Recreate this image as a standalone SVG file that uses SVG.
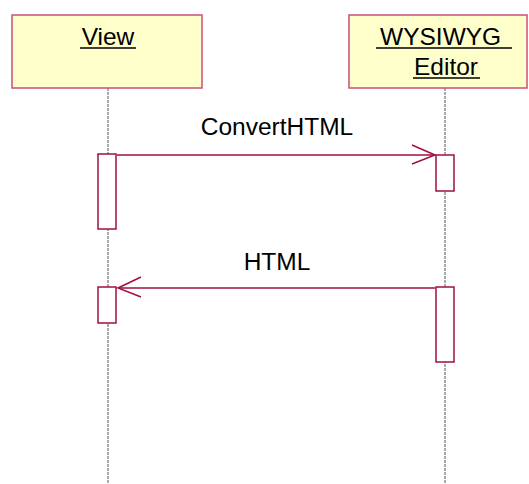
<svg xmlns="http://www.w3.org/2000/svg" width="529" height="484" viewBox="0 0 529 484">
<style>
.obj{fill:#FFFFCC;stroke:#C8507A;stroke-width:1.5}
.lbl{font-family:"Liberation Sans",Arial,sans-serif;font-size:24.5px;fill:#000;text-anchor:middle}
.ul{stroke:#000;stroke-width:1.5}
.life{stroke:#555;stroke-width:1;stroke-dasharray:3,1}
.act{fill:#fff;stroke:#A0103C;stroke-width:1.5}
.msg{stroke:#A0103C;stroke-width:1.5;fill:none}
</style>
<rect width="529" height="484" fill="#fff"/>
<g id="lifelines">
<line class="life" x1="108" y1="88" x2="108" y2="484"/>
<line class="life" x1="445" y1="88" x2="445" y2="484"/>
</g>
<g id="view">
<rect class="obj" x="12" y="15" width="190" height="73"/>
<text class="lbl" x="108" y="45">View</text>
<line class="ul" x1="80" y1="48" x2="136" y2="48"/>
</g>
<g id="editor">
<rect class="obj" x="349" y="15" width="178" height="73"/>
<text class="lbl" x="444" y="45" xml:space="preserve">WYSIWYG </text>
<line class="ul" x1="376" y1="48" x2="512" y2="48"/>
<text class="lbl" x="446" y="75">Editor</text>
<line class="ul" x1="413" y1="78" x2="480" y2="78"/>
</g>
<g id="activations">
<rect class="act" x="98" y="154" width="18" height="75"/>
<rect class="act" x="436" y="155" width="18" height="36"/>
<rect class="act" x="98" y="287" width="18" height="36"/>
<rect class="act" x="436" y="287" width="18" height="75"/>
</g>
<g id="connectors">
<line class="msg" x1="117" y1="155" x2="435" y2="155"/>
<polyline class="msg" points="412,145 435,155 412,164"/>
<text class="lbl" x="277" y="135">ConvertHTML</text>
<line class="msg" x1="435" y1="288" x2="118" y2="288"/>
<polyline class="msg" points="141,277 118,288 141,297"/>
<text class="lbl" x="277" y="270">HTML</text>
</g>
</svg>
